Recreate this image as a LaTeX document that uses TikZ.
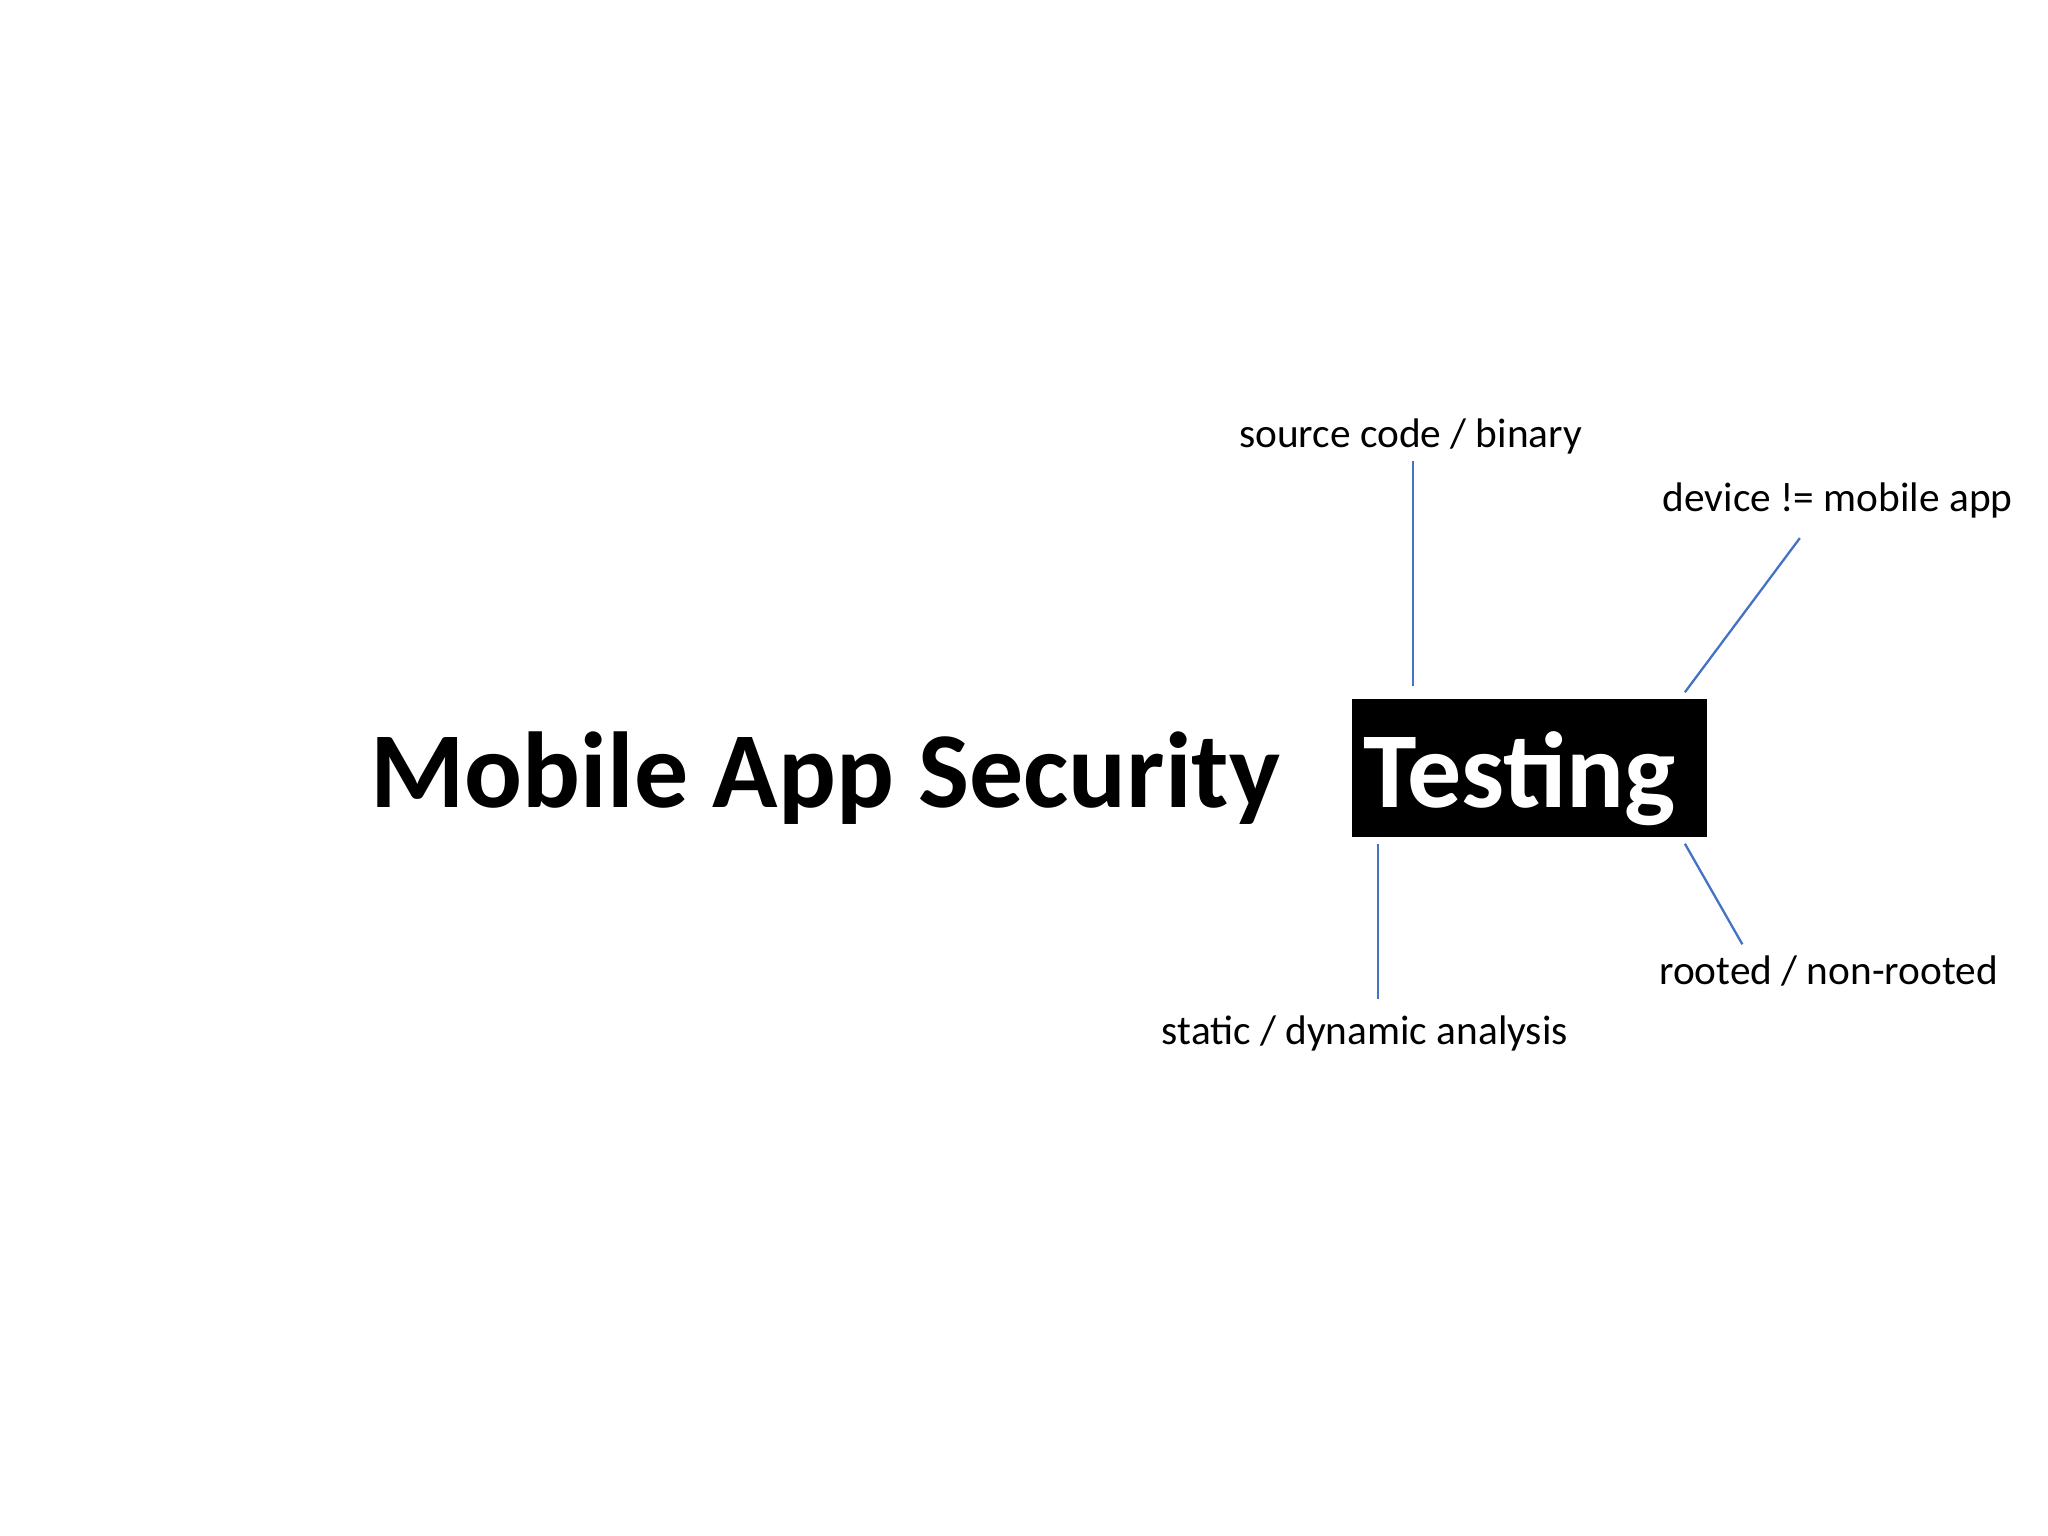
\documentclass[tikz,border=0pt]{standalone}
\usepackage{fontspec}
\setmainfont{Carlito}
\begin{document}
\begin{tikzpicture}[x=0.01cm,y=-0.01cm,
  title/.style={font=\fontsize{23.5pt}{26pt}\selectfont\bfseries,inner sep=0pt},
  lbl/.style={font=\fontsize{9pt}{11pt}\selectfont,inner sep=0pt},
  conn/.style={draw=blue!40!cyan!60!black,color={rgb,255:red,68;green,114;blue,196},line width=0.5pt}]
\useasboundingbox (0,0) rectangle (1568,1176);
\node[fill=black,minimum width=2.72cm,minimum height=1.06cm,inner sep=0pt] (box) at (1171,588) {};
\node[title,anchor=base west] (mas) at (283,618) {Mobile App Security};
\node[title,anchor=base west,text=white] (test) at (1043,618) {Testing};
\node[lbl,anchor=base] (src) at (1080,343) {source code / binary};
\node[lbl,anchor=base] (dev) at (1407,392) {device != mobile app};
\node[lbl,anchor=base] (root) at (1400,754) {rooted / non-rooted};
\node[lbl,anchor=base] (stat) at (1045,800) {static / dynamic analysis};
\coordinate (a1) at (1082,353); \coordinate (a2) at (1082,525);
\coordinate (b1) at (1378,412); \coordinate (b2) at (1290,530);
\coordinate (c1) at (1055,646); \coordinate (c2) at (1055,765);
\coordinate (d1) at (1290,646); \coordinate (d2) at (1334,723);
\draw[conn] (a1) -- (a2);
\draw[conn] (b1) -- (b2);
\draw[conn] (c1) -- (c2);
\draw[conn] (d1) -- (d2);
\end{tikzpicture}
\end{document}
